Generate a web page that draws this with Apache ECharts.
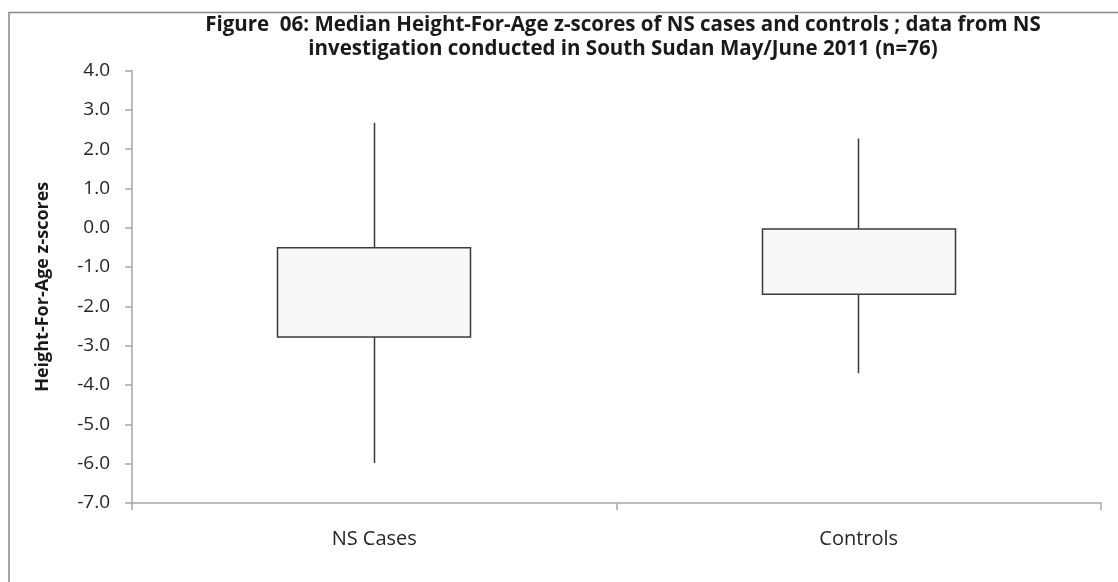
<!DOCTYPE html>
<html>
<head>
<meta charset="utf-8">
<script src="https://cdn.jsdelivr.net/npm/echarts@6/dist/echarts.min.js"></script>
<style>
html,body{margin:0;padding:0;background:#fff;}
#chart{width:1118px;height:582px;}
</style>
</head>
<body>
<div id="chart"></div>
<script>
var categories = ['NS Cases', 'Controls'];
// [Q1 (lower box edge), Q3 (upper box edge), lower whisker, upper whisker]
var q1Values = [-2.78, -1.69];
var q3Values = [-0.51, -0.03];
var minValues = [-5.98, -3.70];
var maxValues = [2.67, 2.27];
var yTicks = [-7, -6, -5, -4, -3, -2, -1, 0, 1, 2, 3, 4];

var titleLines = [
  'Figure  06: Median Height-For-Age z-scores of NS cases and controls ; data from NS',
  'investigation conducted in South Sudan May/June 2011 (n=76)'
];

var candleData = categories.map(function (c, i) {
  return [q1Values[i], q3Values[i], minValues[i], maxValues[i]];
});

var FONT = '"Open Sans", "DejaVu Sans", sans-serif';
var chart = echarts.init(document.getElementById('chart'), null, {renderer: 'canvas'});
chart.setOption({
  animation: false,
  backgroundColor: '#ffffff',
  title: {
    text: titleLines.join('\n'),
    left: 618,
    textAlign: 'center',
    top: 8,
    textStyle: {fontFamily: FONT, fontSize: 20.5, fontWeight: 'bold', color: '#1a1a1a', lineHeight: 24}
  },
  graphic: [{
    type: 'rect',
    shape: {x: 9, y: 12.5, width: 1130, height: 600},
    style: {fill: null, stroke: '#888888', lineWidth: 1.5},
    silent: true
  }],
  grid: {left: 132, right: 17, top: 70.5, bottom: 79},
  xAxis: {
    type: 'category',
    data: categories,
    boundaryGap: true,
    axisLine: {onZero: false, lineStyle: {color: '#a6a6a6', width: 1.5}},
    axisTick: {show: true, interval: 0, length: 7, lineStyle: {color: '#a6a6a6', width: 1.5}},
    axisLabel: {margin: 26, fontFamily: FONT, fontSize: 20, color: '#262626'},
    splitLine: {show: false}
  },
  yAxis: {
    type: 'value',
    min: yTicks[0],
    max: yTicks[yTicks.length - 1],
    interval: 1,
    name: 'Height-For-Age z-scores',
    nameLocation: 'middle',
    nameGap: 80,
    nameTextStyle: {fontFamily: FONT, fontSize: 18, fontWeight: 'bold', color: '#1a1a1a'},
    axisLine: {show: true, lineStyle: {color: '#a6a6a6', width: 1.5}},
    axisTick: {show: true, length: 7, lineStyle: {color: '#a6a6a6', width: 1.5}},
    axisLabel: {
      margin: 22, fontFamily: FONT, fontSize: 19, color: '#262626',
      formatter: function (v) { return v.toFixed(1); }
    },
    splitLine: {show: false}
  },
  series: [{
    type: 'candlestick',
    data: candleData,
    barWidth: '40%',
    itemStyle: {
      color: '#f8f8f8',
      color0: '#f8f8f8',
      borderColor: '#3a3a3a',
      borderColor0: '#3a3a3a',
      borderWidth: 1.5
    }
  }]
});
</script>
</body>
</html>
